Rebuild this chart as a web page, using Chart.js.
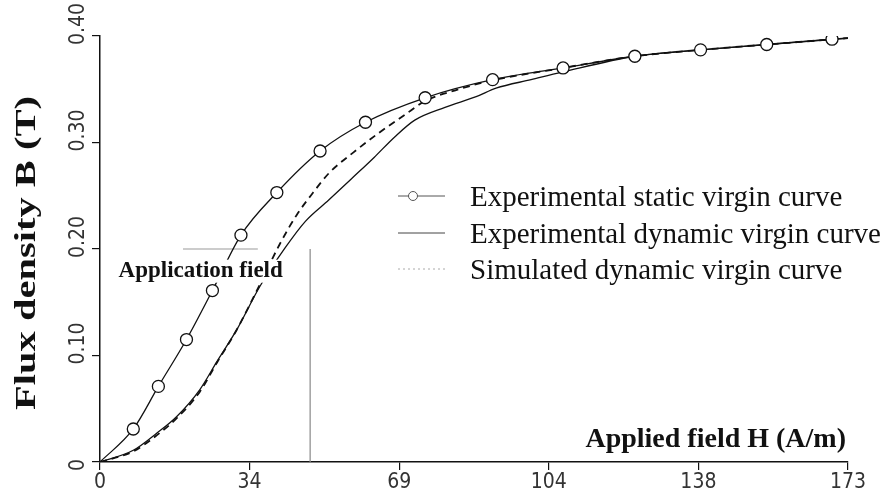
<!DOCTYPE html>
<html>
<head>
<meta charset="utf-8">
<script src="https://cdn.jsdelivr.net/npm/chart.js@4.4.0/dist/chart.umd.min.js"></script>
<style>
  body { margin: 0; background: #fff; }
  #wrap { width: 887px; height: 496px; }
</style>
</head>
<body>
<div id="wrap"><canvas id="chartBH"></canvas></div>
<script>
// axis ticks
var xTickValues = [0, 34.6, 69.2, 103.8, 138.4, 173];
var xTickLabels = ['0', '34', '69', '104', '138', '173'];
var yTickValues = [0, 0.1, 0.2, 0.3, 0.4];
var yTickLabels = ['0', '0.10', '0.20', '0.30', '0.40'];

// experimental static virgin curve (circles)
var staticH = [0, 7.7, 13.5, 20.0, 26.0, 32.6, 40.9, 50.9, 61.4, 75.2, 90.8, 107.1, 123.7, 138.9, 154.2, 169.3, 173];
var staticB = [0, 0.031, 0.071, 0.115, 0.161, 0.213, 0.253, 0.292, 0.319, 0.342, 0.359, 0.370, 0.381, 0.387, 0.392, 0.397, 0.398];

// experimental dynamic virgin curve (solid)
var dynH = [0, 7.7, 13.1, 17.7, 23.1, 27.0, 31.6, 37.0, 42.8, 47.5, 52.9, 58.7, 63.4, 68.1, 72.8, 79.8, 87.0, 91.6, 99.7, 106.8, 123.7, 138.9, 154.2, 173];
var dynB = [0, 0.011, 0.027, 0.0425, 0.068, 0.094, 0.124, 0.165, 0.201, 0.226, 0.246, 0.268, 0.286, 0.305, 0.321, 0.333, 0.343, 0.351, 0.359, 0.366, 0.381, 0.387, 0.392, 0.398];

// simulated dynamic virgin curve (dashed)
var simH = [0, 7.7, 13.1, 17.7, 23.1, 27.0, 31.6, 37.0, 41.5, 45.5, 49.3, 52.9, 58.7, 64.5, 70.5, 75.2, 82.2, 90.4, 107.1, 123.7, 138.9, 154.2, 173];
var simB = [0, 0.010, 0.025, 0.041, 0.066, 0.093, 0.124, 0.167, 0.204, 0.232, 0.253, 0.271, 0.291, 0.309, 0.326, 0.339, 0.349, 0.358, 0.370, 0.381, 0.387, 0.392, 0.398];

// application field marker
var fieldH = 48.6;
var fieldB = 0.2;
var fieldLineH = [19.2, 36.5];

var legendLabels = ['Experimental static virgin curve', 'Experimental dynamic virgin curve', 'Simulated dynamic virgin curve'];
var yTitle = 'Flux density B (T)';
var xTitle = 'Applied field H (A/m)';
var fieldLabel = 'Application field';

function toPoints(xs, ys) {
    return xs.map(function(x, i) { return { x: x, y: ys[i] }; });
}

var serif = '"Liberation Serif", "Times New Roman", serif';
var tickFont = '"Liberation Sans Narrow", "DejaVu Sans Condensed", sans-serif';

var textPlugin = {
    id: 'figureText',
    afterDatasetsDraw: function(chart) {
        var ctx = chart.ctx;
        var xs = chart.scales.x, ys = chart.scales.y;
        // application field label, on white
        ctx.save();
        ctx.font = 'bold 23px ' + serif;
        var lx = xs.getPixelForValue(4.3);
        var ly = ys.getPixelForValue(0.174);
        var w = ctx.measureText(fieldLabel).width;
        ctx.fillStyle = '#fff';
        ctx.fillRect(lx - 2, ly - 17, w + 4, 23);
        ctx.fillStyle = '#111';
        ctx.textBaseline = 'alphabetic';
        ctx.fillText(fieldLabel, lx, ly);
        ctx.restore();
    },
    afterDraw: function(chart) {
        var ctx = chart.ctx;
        var area = chart.chartArea;
        var ys = chart.scales.y;
        ctx.save();
        ctx.fillStyle = '#111';

        // y tick labels, rotated, starting a little below each tick
        ctx.fillStyle = '#333';
        ctx.font = '21px ' + tickFont;
        yTickValues.forEach(function(v, i) {
            var py = ys.getPixelForValue(v);
            ctx.save();
            ctx.translate(79, py + 9);
            ctx.rotate(-Math.PI / 2);
            ctx.textAlign = 'left';
            ctx.textBaseline = 'middle';
            ctx.fillText(yTickLabels[i], 0, 0);
            ctx.restore();
        });
        ctx.fillStyle = '#111';

        // x title inside plot, bottom right
        ctx.font = 'bold 28px ' + serif;
        ctx.textAlign = 'right';
        ctx.textBaseline = 'alphabetic';
        ctx.fillText(xTitle, area.right - 2, area.bottom - 15);

        // y title, rotated and a bit stretched like the scan
        ctx.save();
        ctx.translate(27, (area.top + area.bottom) / 2 + 4);
        ctx.rotate(-Math.PI / 2);
        ctx.scale(1.35, 1);
        ctx.font = 'bold 30px ' + serif;
        ctx.textAlign = 'center';
        ctx.textBaseline = 'middle';
        ctx.fillText(yTitle, 0, 0);
        ctx.restore();

        // legend
        var x0 = 398, x1 = 445, tx = 470;
        var rows = [196, 233, 269];
        ctx.font = '29px ' + serif;
        ctx.textAlign = 'left';
        ctx.textBaseline = 'alphabetic';
        legendLabels.forEach(function(lbl, i) {
            var y = rows[i];
            ctx.save();
            ctx.beginPath();
            if (i === 0) {
                ctx.strokeStyle = '#555';
                ctx.lineWidth = 1;
            } else if (i === 1) {
                ctx.strokeStyle = '#444';
                ctx.lineWidth = 1;
            } else {
                ctx.strokeStyle = '#aaa';
                ctx.lineWidth = 1;
                ctx.setLineDash([2, 3]);
            }
            ctx.moveTo(x0, y);
            ctx.lineTo(x1, y);
            ctx.stroke();
            if (i === 0) {
                ctx.beginPath();
                ctx.fillStyle = '#fff';
                ctx.arc(x0 + 15, y, 4.5, 0, Math.PI * 2);
                ctx.fill();
                ctx.stroke();
            }
            ctx.restore();
            ctx.fillText(lbl, tx, y + 10);
        });
        ctx.restore();
    }
};

var ctx = document.getElementById('chartBH');
var myChart = new Chart(ctx, {
    type: 'scatter',
    data: {
        datasets: [{
            label: legendLabels[0],
            data: toPoints(staticH, staticB),
            showLine: true,
            borderColor: '#111',
            borderWidth: 1.3,
            backgroundColor: '#fff',
            pointBorderColor: '#111',
            pointBorderWidth: 1.3,
            pointRadius: staticH.map(function(h, i) { return (i === 0 || i === staticH.length - 1) ? 0 : 6; }),
            cubicInterpolationMode: 'monotone'
        }, {
            label: legendLabels[1],
            data: toPoints(dynH, dynB),
            showLine: true,
            borderColor: '#111',
            borderWidth: 1.3,
            pointRadius: 0,
            cubicInterpolationMode: 'monotone'
        }, {
            label: legendLabels[2],
            data: toPoints(simH, simB),
            showLine: true,
            borderColor: '#111',
            borderWidth: 1.8,
            borderDash: [7, 5],
            pointRadius: 0,
            cubicInterpolationMode: 'monotone'
        }, {
            label: 'field-h',
            data: toPoints(fieldLineH, [fieldB, fieldB]),
            showLine: true,
            borderColor: '#999',
            borderWidth: 1.2,
            pointRadius: 0
        }, {
            label: 'field-v',
            data: toPoints([fieldH, fieldH], [0, fieldB]),
            showLine: true,
            borderColor: '#888',
            borderWidth: 1.2,
            pointRadius: 0
        }]
    },
    options: {
        responsive: true,
        maintainAspectRatio: false,
        animation: false,
        events: [],
        layout: { padding: { top: 36, right: 39, left: 0, bottom: 0 } },
        plugins: {
            legend: { display: false },
            tooltip: { enabled: false }
        },
        scales: {
            x: {
                type: 'linear',
                min: 0,
                max: 173,
                afterBuildTicks: function(scale) {
                    scale.ticks = xTickValues.map(function(v) { return { value: v }; });
                },
                afterFit: function(scale) { scale.height = 34; },
                ticks: {
                    padding: 0,
                    color: '#333',
                    font: { family: tickFont, size: 21 },
                    callback: function(v, i) { return xTickLabels[i]; }
                },
                grid: { drawOnChartArea: false, tickLength: 8, color: '#111', lineWidth: 1.2 },
                border: { color: '#111', width: 1.5 }
            },
            y: {
                type: 'linear',
                min: 0,
                max: 0.4,
                afterBuildTicks: function(scale) {
                    scale.ticks = yTickValues.map(function(v) { return { value: v }; });
                },
                afterFit: function(scale) { scale.width = 100; },
                ticks: { display: false },
                grid: { drawOnChartArea: false, tickLength: 8, color: '#111', lineWidth: 1.2 },
                border: { color: '#111', width: 1.5 }
            }
        }
    },
    plugins: [textPlugin]
});
</script>
</body>
</html>
